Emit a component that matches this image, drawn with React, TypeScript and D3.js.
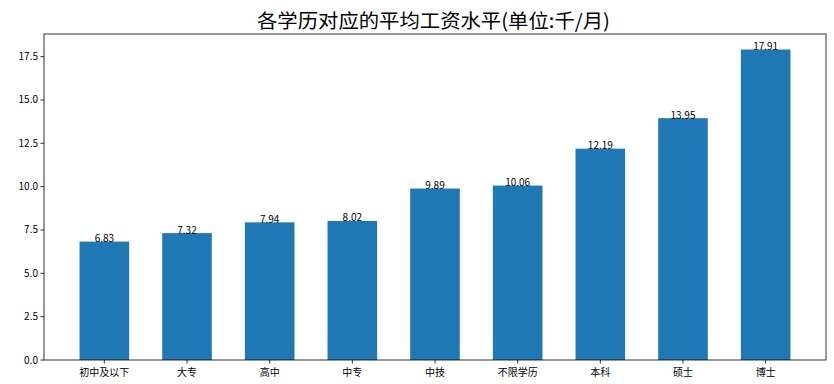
import React from "react";
import * as d3 from "d3";

const categories = ["初中及以下", "大专", "高中", "中专", "中技", "不限学历", "本科", "硕士", "博士"];
const values = [6.83, 7.32, 7.94, 8.02, 9.89, 10.06, 12.19, 13.95, 17.91];
const yTicks = [0, 2.5, 5, 7.5, 10, 12.5, 15, 17.5];
const title = "各学历对应的平均工资水平(单位:千/月)";

const W = 834, H = 384;
const L = 44, R = 826, T = 34, B = 360;
const FONT = "'Noto Sans CJK SC', 'DejaVu Sans', sans-serif";

export default function App() {
  const n = categories.length;
  const barW = 0.6;
  const pad = (n - 1 + barW) * 0.05;
  const x = d3.scaleLinear().domain([-barW / 2 - pad, n - 1 + barW / 2 + pad]).range([L, R]);
  const yMax = d3.max(values)! * 1.05;
  const y = d3.scaleLinear().domain([0, yMax]).range([B, T]);
  const bw = x(barW) - x(0);
  return (
    <svg width={W} height={H} style={{ position: "absolute", left: 0, top: 0 }}>
      <rect width={W} height={H} fill="#fff" />
      <text x={(L + R) / 2 - 1.5} y={28} textAnchor="middle" fontSize={19.5} fontFamily={FONT} fill="#000" textLength={353} lengthAdjust="spacingAndGlyphs">{title}</text>
      {values.map((v, i) => (
        <rect key={i} x={x(i) - bw / 2} y={y(v)} width={bw} height={B - y(v)} fill="#1f77b4" />
      ))}
      {values.map((v, i) => (
        <text key={"t" + i} x={x(i)} y={y(v) + 0.5} textAnchor="middle" fontSize={10} fontFamily={FONT} fill="#000">{v.toFixed(2)}</text>
      ))}
      <rect x={L} y={T} width={R - L} height={B - T} fill="none" stroke="#000" strokeWidth={0.8} />
      {yTicks.map((t) => (
        <g key={"y" + t}>
          <line x1={L - 3.5} x2={L} y1={y(t)} y2={y(t)} stroke="#000" strokeWidth={0.8} />
          <text x={L - 6} y={y(t)} dy="0.35em" textAnchor="end" fontSize={10} fontFamily={FONT} fill="#000">{t.toFixed(1)}</text>
        </g>
      ))}
      {categories.map((c, i) => (
        <g key={"x" + i}>
          <line x1={x(i)} x2={x(i)} y1={B} y2={B + 3.5} stroke="#000" strokeWidth={0.8} />
          <text x={x(i)} y={B + 16} textAnchor="middle" fontSize={10} fontFamily={FONT} fill="#000">{c}</text>
        </g>
      ))}
    </svg>
  );
}
